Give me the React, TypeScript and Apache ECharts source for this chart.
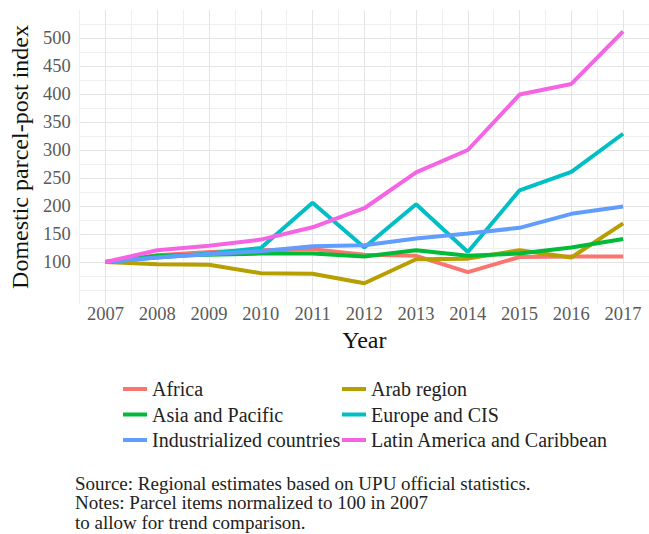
import React, { useEffect, useRef } from "react";
import * as echarts from "echarts";

const years = [2007, 2008, 2009, 2010, 2011, 2012, 2013, 2014, 2015, 2016, 2017];
const seriesNames = [
  "Africa",
  "Arab region",
  "Asia and Pacific",
  "Europe and CIS",
  "Industrialized countries",
  "Latin America and Caribbean",
];
const africa = [100, 112, 118, 121, 123, 113, 111, 82, 109, 110, 110];
const arabRegion = [100, 96, 95, 80, 79, 62, 105, 106, 121, 108, 169];
const asiaPacific = [100, 111, 113, 115, 115, 110, 121, 111, 115, 126, 141];
const europeCIS = [100, 108, 115, 125, 206, 126, 203, 118, 228, 261, 329];
const industrialized = [100, 108, 114, 119, 128, 130, 142, 151, 161, 186, 199];
const latinAmerica = [100, 121, 129, 140, 162, 196, 260, 300, 399, 418, 512];
const yTickLabels = [100, 150, 200, 250, 300, 350, 400, 450, 500];
const sourceLines = [
  "Source: Regional estimates based on UPU official statistics.",
  "Notes: Parcel items normalized to 100 in 2007",
  "to allow for trend comparison.",
];

const colors = ["#F8766D", "#B79F00", "#00BA38", "#00BFC4", "#619CFF", "#F564E3"];
const FONT = "Liberation Serif";

export default function App() {
  const ref = useRef<HTMLDivElement>(null);
  useEffect(() => {
    if (!ref.current) return;
    const chart = echarts.init(ref.current, null, { renderer: "svg" });
    const allData = [africa, arabRegion, asiaPacific, europeCIS, industrialized, latinAmerica];

    const yMin = 25, yMax = 550, yStep = 25;
    const yLineColors: string[] = [];
    for (let v = yMin; v <= yMax; v += yStep) {
      if (v === yMin || v === yMax) yLineColors.push("rgba(0,0,0,0)");
      else if (v % 50 === 0 && v >= 100) yLineColors.push("#e4e4e4");
      else yLineColors.push("#efefef");
    }
    const xLineColors = ["#efefef", "#e4e4e4"];

    const legendBase = {
      orient: "vertical",
      top: 379,
      padding: 0,
      itemWidth: 24,
      itemHeight: 4,
      itemGap: 5.5,
      icon: "rect",
      selectedMode: false,
      textStyle: { fontFamily: FONT, fontSize: 20, color: "#222", lineHeight: 20 },
    };

    const option: any = {
      animation: false,
      backgroundColor: "#ffffff",
      color: colors,
      textStyle: { fontFamily: FONT },
      grid: { left: 74, top: 10, width: 577, height: 294, containLabel: false },
      xAxis: {
        type: "value",
        min: 2006.5,
        max: 2017.5,
        interval: 0.5,
        name: "Year",
        nameLocation: "middle",
        nameGap: 22,
        nameTextStyle: { fontFamily: FONT, fontSize: 24, color: "#111" },
        axisLine: { show: false },
        axisTick: { show: false },
        axisLabel: {
          fontFamily: FONT,
          fontSize: 18.5,
          color: "#5a5a5a",
          margin: 0,
          showMinLabel: false,
          showMaxLabel: false,
          formatter: (v: number) => (Number.isInteger(v) && years.includes(v) ? String(v) : ""),
        },
        splitLine: { show: true, lineStyle: { color: xLineColors, width: 1 } },
      },
      yAxis: {
        type: "value",
        min: yMin,
        max: yMax,
        interval: yStep,
        name: "Domestic parcel-post index",
        nameLocation: "middle",
        nameGap: 39,
        nameTextStyle: { fontFamily: FONT, fontSize: 24, color: "#111" },
        axisLine: { show: false },
        axisTick: { show: false },
        axisLabel: {
          fontFamily: FONT,
          fontSize: 18.5,
          color: "#5a5a5a",
          margin: 9,
          formatter: (v: number) => (yTickLabels.includes(v) ? String(v) : ""),
        },
        splitLine: { show: true, lineStyle: { color: yLineColors, width: 1 } },
      },
      legend: [
        { ...legendBase, left: 123, data: [seriesNames[0], seriesNames[2], seriesNames[4]] },
        { ...legendBase, left: 342, data: [seriesNames[1], seriesNames[3], seriesNames[5]] },
      ],
      graphic: sourceLines.map((t, i) => ({
        type: "text",
        left: 75,
        top: 474 + i * 19.3,
        style: { text: t, fontFamily: FONT, fontSize: 19, lineHeight: 19, fill: "#222" },
      })),
      series: seriesNames.map((name, i) => ({
        name,
        type: "line",
        data: years.map((y, j) => [y, allData[i][j]]),
        symbol: "none",
        lineStyle: { width: 4, color: colors[i] },
        itemStyle: { color: colors[i] },
        z: 2 + i,
      })),
    };
    chart.setOption(option);
    return () => chart.dispose();
  }, []);
  return (
    <div
      ref={ref}
      style={{ position: "absolute", left: 0, top: 0, width: 649, height: 534 }}
    />
  );
}
